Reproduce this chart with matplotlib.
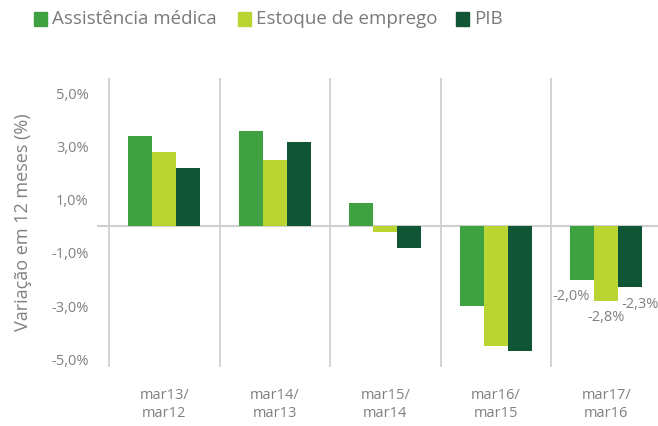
import numpy as np
import matplotlib.pyplot as plt
from matplotlib.patches import Rectangle

plt.rcParams['font.family'] = ['Open Sans', 'DejaVu Sans']

# Dados
periodos = ['mar13/\nmar12', 'mar14/\nmar13', 'mar15/\nmar14', 'mar16/\nmar15', 'mar17/\nmar16']
assistencia = [3.4, 3.6, 0.9, -3.0, -2.0]
estoque = [2.8, 2.5, -0.2, -4.5, -2.8]
pib = [2.2, 3.2, -0.8, -4.7, -2.3]
series = ['Assistência médica', 'Estoque de emprego', 'PIB']
cores = ['#3EA142', '#BAD531', '#105535']
yticks = [5, 3, 1, -1, -3, -5]

cinza = '#808080'
linha = '#D0D0D0'

fig = plt.figure(figsize=(6.58, 4.26), dpi=100)
W, H = 658, 426
ax = fig.add_axes([97 / W, 1 - 367 / H, (W - 97) / W, (367 - 78) / H])

x = np.arange(len(periodos))
larg = 0.217
for i, (vals, cor) in enumerate(zip([assistencia, estoque, pib], cores)):
    ax.bar(x + (i - 1) * larg, vals, width=larg, color=cor, zorder=3)

ax.set_xlim(-0.5 - 12 / 110.5, -0.5 + (W - 109) / 110.5)
ax.set_ylim(-5.3, 5.6)

# linhas verticais entre categorias e linha do zero
for b in np.arange(-0.5, len(periodos), 1.0):
    ax.axvline(b, color=linha, lw=1.3, zorder=1)
ax.axhline(0, color=linha, lw=1.5, zorder=2)

for s in ax.spines.values():
    s.set_visible(False)

ax.set_yticks(yticks)
ax.set_yticklabels([f'{v:.1f}%'.replace('.', ',') for v in yticks])
ax.set_xticks(x)
ax.set_xticklabels(periodos, linespacing=1.25)
ax.tick_params(axis='y', length=0, pad=6, labelsize=10.5, labelcolor=cinza)
ax.tick_params(axis='x', length=0, pad=15, labelsize=10.5, labelcolor=cinza)

ax.set_ylabel('Variação em 12 meses (%)', color=cinza, fontsize=13, labelpad=14)

# rótulos do último grupo
desloc = [-8, 0, 7]
dy = [-12, -12, -12]
for i, vals in enumerate([assistencia, estoque, pib]):
    v = vals[-1]
    ax.annotate(f'{v:.1f}%'.replace('.', ','), (x[-1] + (i - 1) * larg, v),
                xytext=(desloc[i], dy[i]), textcoords='offset points',
                ha='center', va='center', fontsize=10.5, color=cinza)

# legenda manual
leg_x = [34, 238, 456]
for lx, nome, cor in zip(leg_x, series, cores):
    fig.patches.append(Rectangle((lx / W, 1 - 26 / H), 13 / W, 14 / H,
                                 transform=fig.transFigure, color=cor))
    fig.text((lx + 18) / W, 1 - 19 / H, nome, fontsize=13.5, color='#7a7a7a',
             ha='left', va='center')

fig.savefig('out.png', dpi=100)
